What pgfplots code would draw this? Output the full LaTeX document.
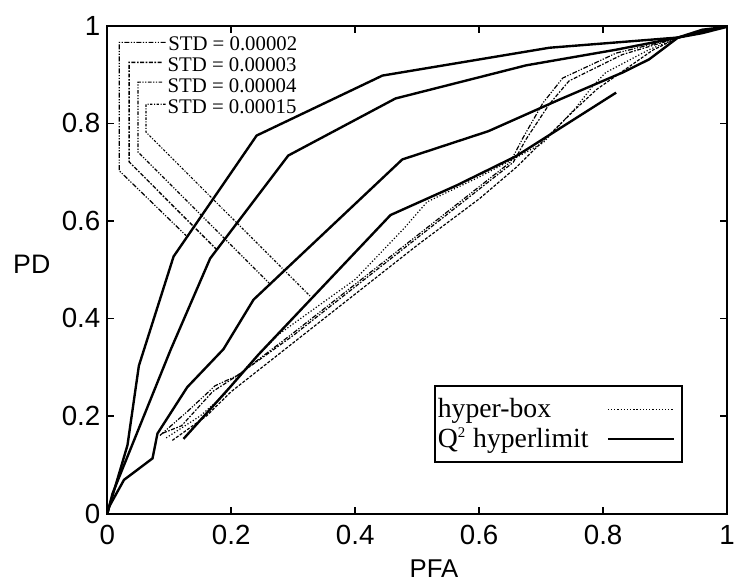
\documentclass[border=0pt]{standalone}
\usepackage{fontspec}
\setmainfont{Liberation Serif}
\setsansfont{Liberation Sans}
\usepackage{pgfplots}
\pgfplotsset{compat=1.18}

\begin{document}
\begin{tikzpicture}
\begin{axis}[
  scale only axis, width=312bp, height=245.5bp,
  xmin=0, xmax=1, ymin=0, ymax=1,
  xtick={0,0.2,0.4,0.6,0.8,1}, ytick={0,0.2,0.4,0.6,0.8,1},
  tick align=inside, xtick pos=both, ytick pos=both,
  major tick length=3.5bp,
  axis line style={line width=1bp},
  every tick/.style={black, line width=0.8bp},
  ticklabel style={font=\sffamily\fontsize{14}{16}\selectfont},
  /pgf/number format/assume math mode=true,
  xticklabel style={yshift=-2.5bp},
  xlabel={\sffamily\fontsize{13}{15}\selectfont PFA},
  ylabel={\sffamily\fontsize{13.5}{15}\selectfont PD},
  xlabel style={at={(rel axis cs:0.527,0)}, anchor=north, inner sep=0pt, yshift=-23bp},
  ylabel style={rotate=-90, at={(rel axis cs:0,0.51)}, anchor=center, xshift=-38bp},
  legend style={at={(rel axis cs:0.9285,0.1026)}, anchor=south east, draw=black, line width=1bp,
    font=\fontsize{14}{16.5}\selectfont, inner xsep=0.5bp, inner ysep=5bp,
    nodes={inner sep=1bp}, row sep=1.5bp},
  legend plot pos=right,
  legend cell align=left,
  legend image code/.code={\draw[#1] (0bp,0bp) -- (33bp,0bp); \path (36bp,0bp);},
]
\addlegendimage{black, line width=0.6bp, densely dotted}
\addlegendentry{\makebox[84bp][l]{hyper-box}}
\addlegendimage{black, line width=1.3bp}
\addlegendentry{\makebox[84bp][l]{Q\textsuperscript{\fontsize{7.5}{9}\selectfont 2} hyperlimit}}

% hyper-box curves
\addplot[forget plot, black, line width=0.6bp, dash pattern=on 2.5pt off 0.8pt on 0.6pt off 0.8pt on 0.6pt off 0.8pt] coordinates
 {(0.085,0.16)(0.13,0.21)(0.174,0.262)(0.21,0.283)(0.3,0.37)(0.4,0.47)(0.5,0.57)(0.6,0.67)(0.65,0.72)(0.671,0.771)(0.703,0.842)(0.735,0.893)(0.821,0.944)(0.92,0.975)(0.96,0.99)(1,0.998)};
\addplot[forget plot, black, line width=0.6bp, dash pattern=on 2pt off 0.8pt on 0.8pt off 0.8pt] coordinates
 {(0.09,0.165)(0.12,0.18)(0.17,0.25)(0.21,0.283)(0.3,0.365)(0.4,0.465)(0.5,0.565)(0.6,0.665)(0.655,0.72)(0.676,0.768)(0.713,0.839)(0.745,0.887)(0.831,0.941)(0.92,0.975)(1,0.998)};
\addplot[forget plot, black, line width=0.6bp, densely dotted] coordinates
 {(0.095,0.155)(0.15,0.2)(0.19,0.245)(0.21,0.28)(0.276,0.367)(0.4,0.48)(0.479,0.585)(0.516,0.639)(0.6,0.69)(0.66,0.73)(0.703,0.76)(0.756,0.832)(0.783,0.876)(0.804,0.904)(0.874,0.951)(0.92,0.975)(1,0.998)};
\addplot[forget plot, black, line width=0.6bp, dash pattern=on 1.5pt off 0.8pt] coordinates
 {(0.105,0.15)(0.16,0.2)(0.2,0.25)(0.3,0.35)(0.4,0.45)(0.5,0.55)(0.6,0.645)(0.66,0.71)(0.7,0.76)(0.756,0.83)(0.79,0.87)(0.88,0.95)(0.92,0.975)(1,0.998)};

% Q2 hyperlimit curves
\addplot[forget plot, black, line width=1.2bp] coordinates
 {(0,0)(0.0326,0.14)(0.051,0.303)(0.107,0.527)(0.241,0.775)(0.444,0.898)(0.713,0.955)(0.921,0.976)(0.96,0.985)(1,0.998)};
\addplot[forget plot, black, line width=1.2bp] coordinates
 {(0,0)(0.0085,0.041)(0.102,0.335)(0.166,0.523)(0.292,0.734)(0.465,0.851)(0.676,0.919)(0.821,0.951)(0.921,0.976)(0.96,0.992)(1,0.998)};
\addplot[forget plot, black, line width=1.2bp] coordinates
 {(0,0)(0.003,0.014)(0.027,0.069)(0.073,0.113)(0.081,0.164)(0.129,0.259)(0.1875,0.337)(0.236,0.4385)(0.476,0.726)(0.615,0.784)(0.73,0.849)(0.831,0.904)(0.874,0.931)(0.921,0.976)(1,1)};
\addplot[forget plot, black, line width=1.2bp] coordinates
 {(0.123,0.153)(0.198,0.259)(0.244,0.326)(0.457,0.612)(0.564,0.673)(0.66,0.733)(0.821,0.863)};

% leader lines
\addplot[forget plot, black, line width=0.6bp, dash pattern=on 2.5pt off 0.8pt on 0.6pt off 0.8pt on 0.6pt off 0.8pt] coordinates
 {(0.094,0.966)(0.0192,0.966)(0.0192,0.703)(0.127,0.570)};
\addplot[forget plot, black, line width=0.7bp, dash pattern=on 2pt off 0.8pt on 0.8pt off 0.8pt] coordinates
 {(0.0876,0.925)(0.0353,0.925)(0.0353,0.721)(0.176,0.542)};
\addplot[forget plot, black, line width=0.6bp, dash pattern=on 1.8pt off 0.8pt on 0.6pt off 0.8pt on 0.6pt off 0.8pt] coordinates
 {(0.0887,0.8845)(0.0497,0.8845)(0.0497,0.741)(0.261,0.4725)};
\addplot[forget plot, black, line width=0.6bp, dash pattern=on 1.2pt off 0.8pt on 0.5pt off 0.8pt] coordinates
 {(0.094,0.839)(0.0625,0.839)(0.0625,0.782)(0.327,0.446)};

\begin{scope}[every node/.style={anchor=west, inner sep=0pt, font=\fontsize{10.5}{12}\selectfont}]
\node at (axis cs:0.0978,0.963) {STD = 0.00002};
\node at (axis cs:0.0967,0.921) {STD = 0.00003};
\node at (axis cs:0.0967,0.877) {STD = 0.00004};
\node at (axis cs:0.0967,0.834) {STD = 0.00015};
\end{scope}
\end{axis}
\pgfresetboundingbox
\path[use as bounding box] (-54bp,-34bp) rectangle (316.5bp,258.5bp);
\end{tikzpicture}
\end{document}
